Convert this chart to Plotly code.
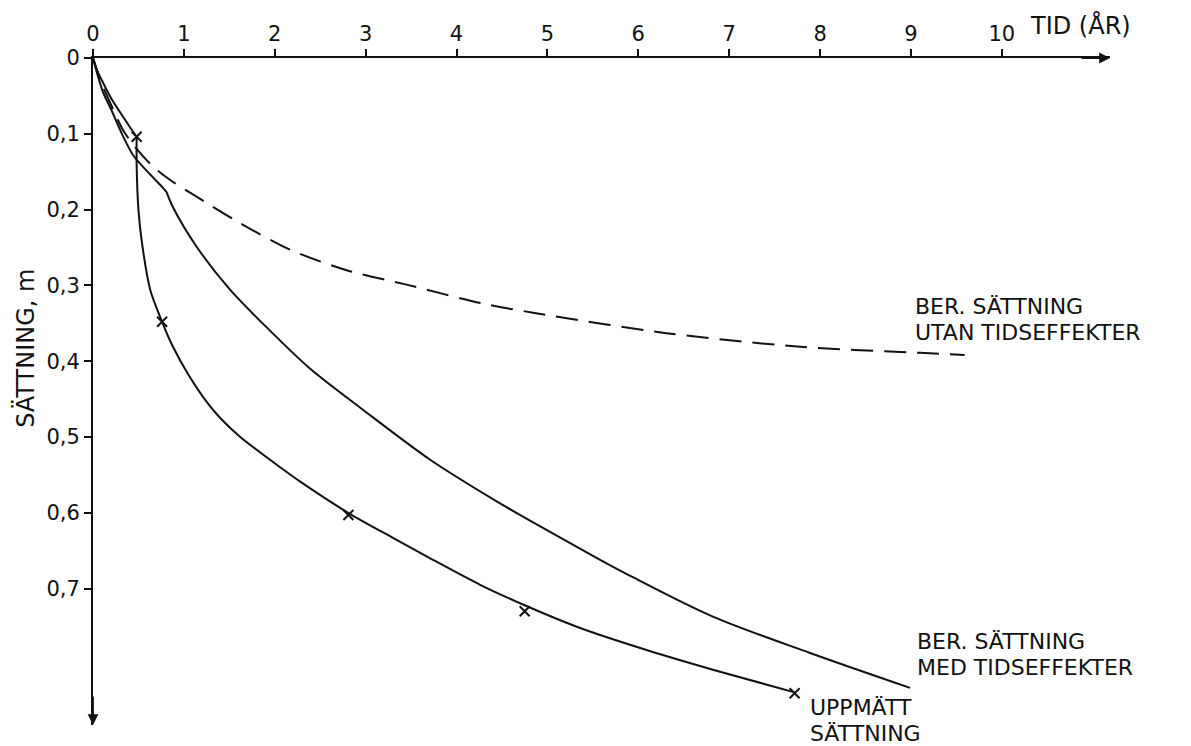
import plotly.graph_objects as go

# ---- data ----
t_measured = [0, 0.05, 0.10, 0.19, 0.30, 0.40, 0.48, 0.48, 0.50, 0.54, 0.63, 0.76, 0.88, 1.05, 1.21, 1.40, 1.62, 2.06, 2.28, 2.82, 3.30, 3.74, 4.26, 4.75, 5.36, 6.09, 6.82, 7.72]
s_measured = [0, 0.018, 0.030, 0.051, 0.072, 0.090, 0.104, 0.140, 0.200, 0.245, 0.306, 0.348, 0.381, 0.418, 0.447, 0.475, 0.500, 0.540, 0.559, 0.601, 0.633, 0.662, 0.695, 0.722, 0.752, 0.781, 0.807, 0.837]
MEAS_CORNER = 6  # index where the measured curve turns sharply downward

t_marks = [0.48, 0.76, 2.81, 4.75, 7.72]
s_marks = [0.104, 0.348, 0.603, 0.730, 0.838]

t_med = [0, 0.05, 0.11, 0.20, 0.33, 0.44, 0.60, 0.76, 0.81, 0.88, 1.14, 1.51, 1.95, 2.39, 2.97, 3.71, 4.40, 4.73, 5.58, 5.94, 6.82, 7.89, 8.99]
s_med = [0, 0.022, 0.045, 0.068, 0.103, 0.128, 0.150, 0.170, 0.177, 0.197, 0.249, 0.306, 0.360, 0.410, 0.464, 0.530, 0.582, 0.605, 0.662, 0.685, 0.737, 0.785, 0.831]
MED_KINK = 8  # index of the kink in the calculated curve

t_utan = [0, 0.10, 0.20, 0.33, 0.48, 0.65, 0.85, 1.14, 1.62, 2.17, 2.79, 3.45, 4.29, 4.84, 6.31, 7.78, 9.10, 9.59]
s_utan = [0, 0.035, 0.062, 0.095, 0.120, 0.142, 0.161, 0.183, 0.218, 0.253, 0.280, 0.299, 0.324, 0.336, 0.363, 0.381, 0.389, 0.392]

x_ticks = [0, 1, 2, 3, 4, 5, 6, 7, 8, 9, 10]
x_ticklabels = ["0", "1", "2", "3", "4", "5", "6", "7", "8", "9", "10"]
y_ticks = [0, 0.1, 0.2, 0.3, 0.4, 0.5, 0.6, 0.7]
y_ticklabels = ["0", "0,1", "0,2", "0,3", "0,4", "0,5", "0,6", "0,7"]

X_MAX = 11.19
Y_MAX = 0.88

FONT = "DejaVu Sans"
INK = "#111111"
LABEL_SIZE = 22

fig = go.Figure()


def curve(xs, ys, dash=None, smoothing=0.9):
    fig.add_trace(go.Scatter(x=xs, y=ys, mode="lines",
                             line=dict(color=INK, width=2, dash=dash,
                                       shape="spline", smoothing=smoothing),
                             hoverinfo="skip", showlegend=False))

curve(t_utan, s_utan, dash="22px,11px", smoothing=0.8)
curve(t_med[:MED_KINK + 1], s_med[:MED_KINK + 1])
curve(t_med[MED_KINK:], s_med[MED_KINK:])
curve(t_measured[:MEAS_CORNER + 1], s_measured[:MEAS_CORNER + 1])
curve(t_measured[MEAS_CORNER:], s_measured[MEAS_CORNER:], smoothing=0.7)

fig.add_trace(go.Scatter(x=t_marks, y=s_marks, mode="markers",
                         marker=dict(symbol="x-thin", size=10,
                                     line=dict(color=INK, width=2)),
                         hoverinfo="skip", showlegend=False))

# page coordinates of the plot area's top and bottom (page has an 8px body margin)
PLOT_TOP, PLOT_BOTTOM = 58, 725


def py_to_paper(py):
    return (PLOT_BOTTOM - py) / (PLOT_BOTTOM - PLOT_TOP)


def label(x, py, text, size=LABEL_SIZE):
    fig.add_annotation(x=x, y=py_to_paper(py), xref="x", yref="paper", text=text,
                       showarrow=False, xanchor="left", yanchor="middle",
                       font=dict(family=FONT, size=size, color=INK))

label(9.02, 306, "BER. SÄTTNING")
label(9.02, 332, "UTAN TIDSEFFEKTER")
label(9.04, 641, "BER. SÄTTNING")
label(9.04, 667, "MED TIDSEFFEKTER")
label(7.87, 707, "UPPMÄTT")
label(7.87, 733, "SÄTTNING")

# axis titles
fig.add_annotation(x=10.29, y=py_to_paper(25), xref="x", yref="paper", text="TID (ÅR)",
                   showarrow=False, xanchor="left", yanchor="middle",
                   font=dict(family=FONT, size=24, color=INK))
fig.add_annotation(x=-0.067, y=py_to_paper(348), xref="paper", yref="paper", text="SÄTTNING, m",
                   showarrow=False, textangle=-90, xanchor="center", yanchor="middle",
                   font=dict(family=FONT, size=24, color=INK))

# axis arrowheads
fig.add_annotation(x=X_MAX, y=0, xref="x", yref="y", ax=-30, ay=0, text="",
                   showarrow=True, arrowhead=2, arrowsize=1.2, arrowwidth=1.8, arrowcolor=INK)
fig.add_annotation(x=0, y=Y_MAX, xref="x", yref="y", ax=0, ay=-30, text="",
                   showarrow=True, arrowhead=2, arrowsize=1.2, arrowwidth=1.8, arrowcolor=INK)

fig.update_layout(
    width=1183, height=738,
    margin=dict(l=85, r=81, t=50, b=21),
    paper_bgcolor="white", plot_bgcolor="white",
    xaxis=dict(range=[0, X_MAX], side="top", showgrid=False, zeroline=False,
               automargin=False,
               showline=True, linecolor=INK, linewidth=1.8,
               ticks="outside", ticklen=7, tickwidth=1.5, tickcolor=INK,
               tickvals=x_ticks, ticktext=x_ticklabels,
               tickfont=dict(family=FONT, size=21, color=INK)),
    yaxis=dict(range=[Y_MAX, 0], showgrid=False, zeroline=False,
               automargin=False,
               showline=True, linecolor=INK, linewidth=1.8,
               ticks="outside", ticklen=7, tickwidth=1.5, tickcolor=INK,
               tickvals=y_ticks, ticktext=y_ticklabels,
               tickfont=dict(family=FONT, size=21, color=INK)),
)

fig.write_html("out.html")
